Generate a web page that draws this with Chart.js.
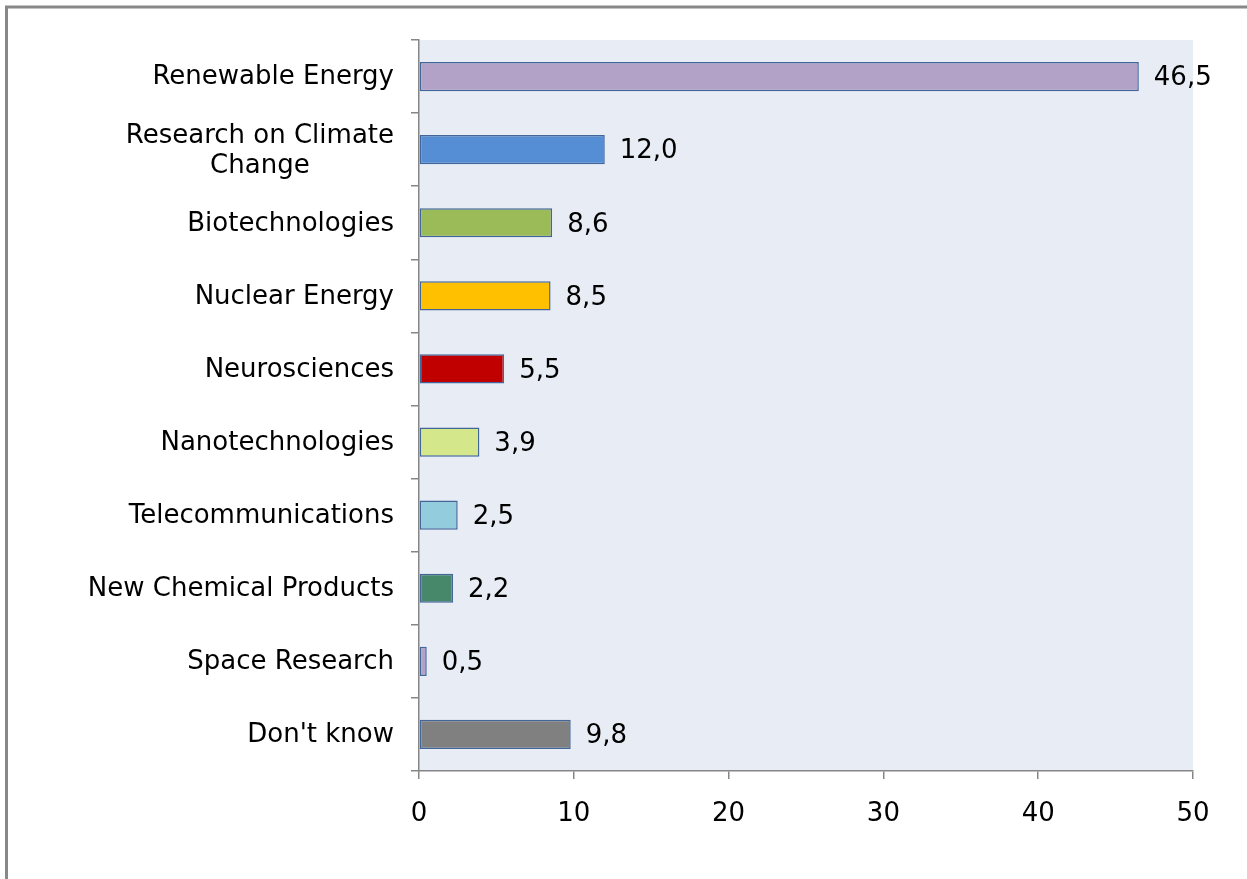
<!DOCTYPE html>
<html>
<head>
<meta charset="utf-8">
<script src="https://cdn.jsdelivr.net/npm/chart.js@4/dist/chart.umd.min.js"></script>
<style>
  html, body { margin: 0; padding: 0; background: #ffffff; }
  #wrap { width: 1247px; height: 879px; }
</style>
</head>
<body>
<div id="wrap"><canvas id="js-topic-chart"></canvas></div>
<script>
var categories = [
    "Renewable Energy",
    ["Research on Climate", "Change"],
    "Biotechnologies",
    "Nuclear Energy",
    "Neurosciences",
    "Nanotechnologies",
    "Telecommunications",
    "New Chemical Products",
    "Space Research",
    "Don't know"
];
var shares = [46.5, 12.0, 8.6, 8.5, 5.5, 3.9, 2.5, 2.2, 0.5, 9.8];
var barColors = ["#b3a2c7", "#558ed5", "#9bbb59", "#ffc000", "#c00000",
                 "#d4e78a", "#93cddd", "#47876a", "#b3a2c7", "#808080"];
var xTicks = [0, 10, 20, 30, 40, 50];

var labelFont = "26px 'DejaVu Sans'";

// frame lines and plot background
var framePlugin = {
    id: "frame",
    beforeDraw: function (chart) {
        var ctx = chart.ctx;
        var area = chart.chartArea;
        ctx.save();
        ctx.fillStyle = "#e8edf5";
        ctx.fillRect(area.left, area.top, area.right - area.left, area.bottom - area.top);
        ctx.strokeStyle = "#888888";
        ctx.lineWidth = 3;
        ctx.beginPath();
        ctx.moveTo(6.5, chart.height);
        ctx.lineTo(6.5, 7);
        ctx.lineTo(chart.width, 7);
        ctx.stroke();
        ctx.restore();
    }
};

// category labels, multi-line ones centered on their own width
var categoryLabelPlugin = {
    id: "categoryLabels",
    afterDraw: function (chart) {
        var ctx = chart.ctx;
        var yScale = chart.scales.y;
        var rightEdge = 394;
        ctx.save();
        ctx.font = labelFont;
        ctx.fillStyle = "#000000";
        ctx.textBaseline = "middle";
        ctx.textAlign = "center";
        categories.forEach(function (label, i) {
            var lines = Array.isArray(label) ? label : [label];
            var widest = 0;
            lines.forEach(function (l) { widest = Math.max(widest, ctx.measureText(l).width); });
            var cx = rightEdge - widest / 2;
            var cy = yScale.getPixelForValue(i) + 1;
            if (lines.length > 1) cy += 1;
            var lineH = 30;
            lines.forEach(function (l, j) {
                ctx.fillText(l, cx, cy + (j - (lines.length - 1) / 2) * lineH);
            });
        });
        ctx.restore();
    }
};

// value labels with decimal comma
var valueLabelPlugin = {
    id: "valueLabels",
    afterDatasetsDraw: function (chart) {
        var ctx = chart.ctx;
        var meta = chart.getDatasetMeta(0);
        ctx.save();
        ctx.font = labelFont;
        ctx.fillStyle = "#000000";
        ctx.textAlign = "left";
        ctx.textBaseline = "middle";
        meta.data.forEach(function (bar, i) {
            var text = shares[i].toFixed(1).replace(".", ",");
            ctx.fillText(text, bar.x + 15, bar.y + 2);
        });
        ctx.restore();
    }
};

var chart = new Chart(document.getElementById("js-topic-chart"), {
    type: "bar",
    data: {
        labels: categories,
        datasets: [{
            data: shares,
            backgroundColor: barColors,
            borderColor: "#43669a",
            borderWidth: 1.5,
            borderSkipped: false,
            categoryPercentage: 1.0,
            barPercentage: 0.4
        }]
    },
    options: {
        indexAxis: "y",
        responsive: true,
        maintainAspectRatio: false,
        animation: false,
        layout: { padding: { left: 0, top: 40, right: 54, bottom: 0 } },
        plugins: {
            legend: { display: false },
            tooltip: { enabled: false }
        },
        scales: {
            x: {
                min: 0,
                max: 50,
                afterBuildTicks: function (scale) {
                    scale.ticks = xTicks.map(function (v) { return { value: v }; });
                },
                afterFit: function (scale) { scale.height = 108; },
                grid: {
                    drawOnChartArea: false,
                    drawTicks: true,
                    tickLength: 8,
                    color: "#868686",
                    lineWidth: 1.5
                },
                border: { color: "#868686", width: 1.5 },
                ticks: {
                    color: "#000000",
                    font: { family: "DejaVu Sans", size: 26 },
                    padding: 20,
                    maxRotation: 0
                }
            },
            y: {
                afterFit: function (scale) { scale.width = 419; },
                grid: {
                    drawOnChartArea: false,
                    drawTicks: true,
                    tickLength: 8,
                    offset: true,
                    color: "#868686",
                    lineWidth: 1.5
                },
                border: { color: "#868686", width: 1.5 },
                ticks: { display: false }
            }
        }
    },
    plugins: [framePlugin, categoryLabelPlugin, valueLabelPlugin]
});
</script>
</body>
</html>
